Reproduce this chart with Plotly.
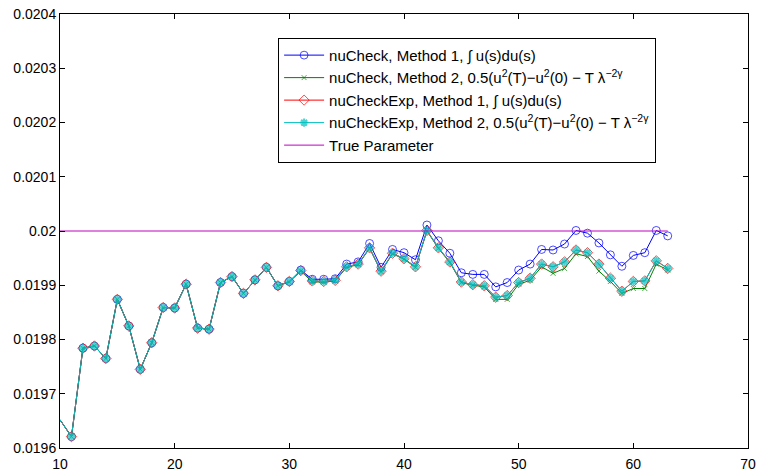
import plotly.graph_objects as go

x_vals = list(range(10, 64))

nucheck_m1 = [0.019652, 0.019621, 0.019784, 0.019788, 0.019765, 0.019874, 0.019825, 0.019745,
              0.019794, 0.019859, 0.019858, 0.019902, 0.019821, 0.019819, 0.019905, 0.019916,
              0.019885, 0.019910, 0.019933, 0.019899, 0.019907, 0.019928, 0.019911, 0.019911,
              0.019912, 0.019939, 0.019943, 0.019977, 0.019933, 0.019966, 0.019960, 0.019947,
              0.020011, 0.019982, 0.019959, 0.019923, 0.019920, 0.019920, 0.019897, 0.019905,
              0.019928, 0.019939, 0.019966, 0.019965, 0.019976, 0.020001, 0.019996, 0.019978,
              0.019956, 0.019935, 0.019955, 0.019960, 0.020001, 0.019991]

nucheck_m2 = [0.019652, 0.019621, 0.019784, 0.019788, 0.019765, 0.019874, 0.019825, 0.019745,
              0.019794, 0.019859, 0.019858, 0.019902, 0.019821, 0.019819, 0.019905, 0.019916,
              0.019885, 0.019910, 0.019933, 0.019899, 0.019906, 0.019926, 0.019906, 0.019906,
              0.019908, 0.019933, 0.019938, 0.019968, 0.019925, 0.019958, 0.019948, 0.019933,
              0.020000, 0.019968, 0.019942, 0.019905, 0.019900, 0.019897, 0.019874, 0.019874,
              0.019902, 0.019909, 0.019934, 0.019922, 0.019931, 0.019958, 0.019953, 0.019926,
              0.019907, 0.019885, 0.019894, 0.019894, 0.019939, 0.019928]

nucheckexp_m1 = [0.019652, 0.019621, 0.019784, 0.019788, 0.019765, 0.019874, 0.019825, 0.019745,
                 0.019794, 0.019859, 0.019858, 0.019902, 0.019821, 0.019819, 0.019905, 0.019916,
                 0.019885, 0.019910, 0.019933, 0.019899, 0.019907, 0.019927, 0.019908, 0.019907,
                 0.019909, 0.019934, 0.019939, 0.019969, 0.019926, 0.019959, 0.019949, 0.019934,
                 0.020001, 0.019969, 0.019943, 0.019906, 0.019901, 0.019899, 0.019878, 0.019881,
                 0.019905, 0.019913, 0.019939, 0.019934, 0.019943, 0.019965, 0.019960, 0.019939,
                 0.019913, 0.019889, 0.019907, 0.019908, 0.019945, 0.019931]

nucheckexp_m2 = [0.019652, 0.019621, 0.019784, 0.019788, 0.019765, 0.019874, 0.019825, 0.019745,
                 0.019794, 0.019859, 0.019858, 0.019902, 0.019821, 0.019819, 0.019905, 0.019916,
                 0.019885, 0.019910, 0.019933, 0.019899, 0.019907, 0.019927, 0.019908, 0.019907,
                 0.019909, 0.019934, 0.019939, 0.019969, 0.019926, 0.019959, 0.019949, 0.019934,
                 0.020001, 0.019969, 0.019943, 0.019906, 0.019901, 0.019899, 0.019878, 0.019881,
                 0.019905, 0.019913, 0.019939, 0.019934, 0.019943, 0.019965, 0.019960, 0.019939,
                 0.019913, 0.019889, 0.019907, 0.019908, 0.019945, 0.019931]

true_x = [10, 63]
true_param = [0.02, 0.02]

x_ticks = [10, 20, 30, 40, 50, 60, 70]
y_ticks = [0.0196, 0.0197, 0.0198, 0.0199, 0.02, 0.0201, 0.0202, 0.0203, 0.0204]
y_tick_labels = ["0.0196", "0.0197", "0.0198", "0.0199", "0.02", "0.0201", "0.0202", "0.0203", "0.0204"]

names = [
    "nuCheck, Method 1, \u222b u(s)du(s)",
    "nuCheck, Method 2, 0.5(u<sup>2</sup>(T)\u2212u<sup>2</sup>(0) \u2212 T \u03bb<sup>\u22122\u03b3</sup>",
    "nuCheckExp, Method 1, \u222b u(s)du(s)",
    "nuCheckExp, Method 2, 0.5(u<sup>2</sup>(T)\u2212u<sup>2</sup>(0) \u2212 T \u03bb<sup>\u22122\u03b3</sup>",
    "True Parameter",
]

def sizes(n, s):
    return [0] + [s] * (n - 1)

fig = go.Figure()
fig.add_trace(go.Scatter(x=x_vals, y=nucheck_m1, name=names[0], mode="lines+markers",
                         line=dict(color="#0000ff", width=1),
                         marker=dict(symbol="circle-open", size=sizes(len(x_vals), 8), color="#0000ff",
                                     line=dict(width=1))))
fig.add_trace(go.Scatter(x=x_vals, y=nucheck_m2, name=names[1], mode="lines+markers",
                         line=dict(color="#008000", width=1),
                         marker=dict(symbol="x-thin-open", size=sizes(len(x_vals), 5), color="#008000",
                                     line=dict(width=1, color="#008000"))))
fig.add_trace(go.Scatter(x=x_vals, y=nucheckexp_m1, name=names[2], mode="lines+markers",
                         line=dict(color="#ff0000", width=1),
                         marker=dict(symbol="diamond-open", size=sizes(len(x_vals), 8), color="#ff0000",
                                     line=dict(width=1))))
fig.add_trace(go.Scatter(x=x_vals, y=nucheckexp_m2, name=names[3], mode="lines+markers",
                         line=dict(color="#00bfbf", width=1),
                         marker=dict(symbol="asterisk-open", size=sizes(len(x_vals), 7), color="#00bfbf",
                                     line=dict(width=2, color="#00bfbf"))))
fig.add_trace(go.Scatter(x=true_x, y=true_param, name=names[4], mode="lines",
                         line=dict(color="#bf00bf", width=1)))

tick_font = dict(family="Liberation Sans, Arial, sans-serif", size=14, color="black")
axis_common = dict(showline=True, linecolor="black", linewidth=1, mirror="ticks",
                   ticks="inside", ticklen=5, tickcolor="black", showgrid=False, zeroline=False,
                   automargin=False, tickfont=tick_font)

fig.update_layout(
    width=762, height=474,
    margin=dict(l=60, r=14, t=14, b=26, autoexpand=False),
    paper_bgcolor="white", plot_bgcolor="white",
    font=dict(family="Liberation Sans, Arial, sans-serif", size=14, color="black"),
    xaxis=dict(range=[10, 70], tickvals=x_ticks, ticklabelstandoff=3, **axis_common),
    yaxis=dict(range=[0.0196, 0.0204], tickvals=y_ticks, ticktext=y_tick_labels, **axis_common),
    legend=dict(x=0.317, y=0.945, xanchor="left", yanchor="top",
                bordercolor="black", borderwidth=1, bgcolor="white",
                font=dict(size=15), tracegroupgap=0, itemwidth=40),
    showlegend=True,
)

fig.write_html("out.html")
